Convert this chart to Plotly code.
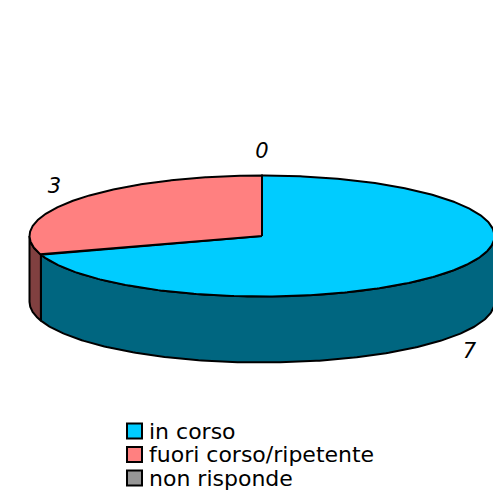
import numpy as np
import plotly.graph_objects as go

# ---- data ----
categories = ["in corso", "fuori corso/ripetente", "non risponde"]
values = [7, 3, 0]
top_colors = ["#00CCFF", "#FF8080", "#969696"]
side_colors = ["#006680", "#804040", "#4B4B4B"]

# ---- geometry (pixel space) ----
W, H = 493, 492
CX, CY = 262, 236
RX, RY = 232.5, 60.5
DEPTH = 66
LABEL_OFF = 24
FONT = "DejaVu Sans"


def ell(theta_deg, dy=0.0):
    t = np.radians(theta_deg)
    return CX + RX * np.sin(t), CY - RY * np.cos(t) + dy


fig = go.Figure()
total = sum(values)
angles = np.cumsum([0] + [v / total * 360 for v in values])

# sides (visible front half: 90..270 deg clockwise from top)
for i, v in enumerate(values):
    a0, a1 = angles[i], angles[i + 1]
    s0, s1 = max(a0, 90), min(a1, 270)
    if s1 <= s0:
        continue
    th = np.linspace(s0, s1, 200)
    xt, yt = ell(th)
    xb, yb = ell(th[::-1], DEPTH)
    xs = np.concatenate([xt, xb, xt[:1]])
    ys = np.concatenate([yt, yb, yt[:1]])
    fig.add_trace(go.Scatter(x=xs, y=ys, mode="lines", fill="toself",
                             fillcolor=side_colors[i],
                             line=dict(color="black", width=2),
                             showlegend=False, hoverinfo="skip"))

# tops
for i, v in enumerate(values):
    a0, a1 = angles[i], angles[i + 1]
    if a1 <= a0:
        continue
    th = np.linspace(a0, a1, 400)
    xa, ya = ell(th)
    xs = np.concatenate([[CX], xa, [CX]])
    ys = np.concatenate([[CY], ya, [CY]])
    fig.add_trace(go.Scatter(x=xs, y=ys, mode="lines", fill="toself",
                             fillcolor=top_colors[i],
                             line=dict(color="black", width=2),
                             showlegend=False, hoverinfo="skip"))

# value labels
lx, ly, lt = [], [], []
for i, v in enumerate(values):
    mid = (angles[i] + angles[i + 1]) / 2
    t = np.radians(mid)
    x, y = ell(mid)
    if 90 < mid % 360 < 270:
        y += DEPTH
    lx.append(x + LABEL_OFF * np.sin(t))
    ly.append(y - LABEL_OFF * np.cos(t) + 1.5)
    lt.append(str(v))
fig.add_trace(go.Scatter(x=lx, y=ly, mode="text", text=lt,
                         textfont=dict(family=FONT, size=21,
                                       color="black", style="italic"),
                         showlegend=False, hoverinfo="skip"))

# legend (drawn manually)
LEG_X, LEG_Y0, LEG_DY = 134.5, 431, 23.5
for i, c in enumerate(categories):
    yy = LEG_Y0 + i * LEG_DY
    fig.add_trace(go.Scatter(x=[LEG_X], y=[yy], mode="markers",
                             marker=dict(symbol="square", size=15, color=top_colors[i],
                                         line=dict(color="black", width=2)),
                             showlegend=False, hoverinfo="skip"))
    fig.add_annotation(x=LEG_X + 12, y=yy, text=c, showarrow=False,
                       xanchor="left", yanchor="middle", xref="x", yref="y",
                       font=dict(family=FONT, size=22, color="black"))

fig.update_layout(
    width=W, height=H,
    margin=dict(l=0, r=0, t=0, b=0, pad=0),
    paper_bgcolor="white", plot_bgcolor="white",
    xaxis=dict(range=[0, W], visible=False, fixedrange=True),
    yaxis=dict(range=[H, 0], visible=False, fixedrange=True),
    showlegend=False,
)

fig.write_html("out.html", config={"displayModeBar": False},
               post_script="document.body.style.margin='0';")
